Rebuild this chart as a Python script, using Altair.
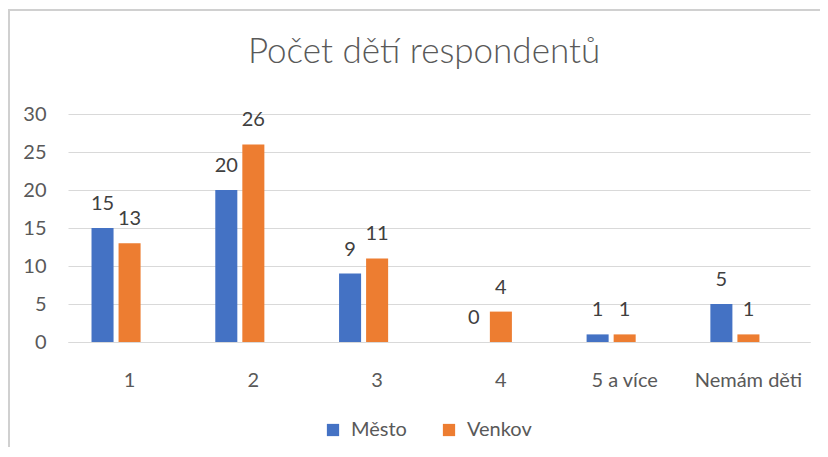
import altair as alt
import pandas as pd

categories = ["1", "2", "3", "4", "5 a více", "Nemám děti"]
mesto = [15, 20, 9, 0, 1, 5]
venkov = [13, 26, 11, 4, 1, 1]
series = ["Město", "Venkov"]
hidden_series = "Celkem"
colors = ["#4472C4", "#ED7D31"]
y_ticks = [0, 5, 10, 15, 20, 25, 30]
title_text = "Počet dětí respondentů"

rows = []
for c, m, v in zip(categories, mesto, venkov):
    rows.append({"cat": c, "series": "Město", "value": m})
    rows.append({"cat": c, "series": "Venkov", "value": v})
df = pd.DataFrame(rows)

FONT = "Lato"
GRAY = "#595959"

x = alt.X(
    "cat:N",
    sort=categories,
    scale=alt.Scale(paddingInner=0.385, paddingOuter=0.19),
    axis=alt.Axis(title=None, labelAngle=0, ticks=False, domainColor="#D9D9D9",
                  domainWidth=1, labelPadding=28, labelFontSize=20,
                  labelColor=GRAY, labelFont=FONT),
)
xo = alt.XOffset("series:N", scale=alt.Scale(domain=series + [hidden_series],
                                              paddingInner=0.185, paddingOuter=0))
y = alt.Y(
    "value:Q",
    scale=alt.Scale(domain=[0, 30]),
    axis=alt.Axis(values=y_ticks, title=None, domain=False, ticks=False,
                  labelPadding=22, gridColor="#D9D9D9", gridWidth=1,
                  labelFontSize=20, labelColor=GRAY, labelFont=FONT),
)
color = alt.Color(
    "series:N",
    scale=alt.Scale(domain=series, range=colors),
    legend=alt.Legend(title=None, orient="none", direction="horizontal",
                      legendX=255, legendY=306, symbolType="square",
                      symbolSize=150, symbolStrokeWidth=0, labelFontSize=20,
                      labelColor=GRAY, labelFont=FONT, labelOffset=8,
                      columnPadding=32),
)

bars = alt.Chart(df).mark_bar().encode(x=x, xOffset=xo, y=y, color=color)
labels = alt.Chart(df).mark_text(baseline="alphabetic", dy=-18, fontSize=20,
                                 font=FONT, color="#404040").encode(
    x=x, xOffset=xo, y=y, text="value:Q")

single = alt.Data(values=[{"t": title_text}])
border = alt.Chart(single).mark_rect(
    fill="white", fillOpacity=0, stroke="#D0D0D0", strokeWidth=2
).encode(x=alt.value(-59), x2=alt.value(900), y=alt.value(-104), y2=alt.value(500))

title = alt.Chart(single).mark_text(
    fontSize=35, font=FONT, fontWeight=300, color=GRAY, align="center",
    baseline="alphabetic"
).encode(x=alt.value(356), y=alt.value(-51), text="t:N")

chart = alt.layer(border, bars, labels, title).properties(
    width=742,
    height=228,
    autosize="none",
    padding={"left": 60, "top": 106, "right": 10, "bottom": 105},
).configure_view(stroke=None)

chart.save("out.html", embed_options={"renderer": "svg", "actions": False})
